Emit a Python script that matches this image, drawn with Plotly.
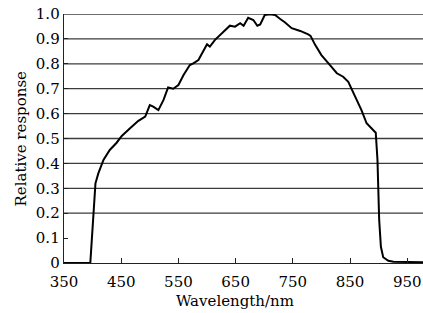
import plotly.graph_objects as go

wavelength = [350, 396, 405, 410, 419, 430, 442, 451, 465, 480, 492, 500, 506, 515, 524,
              532, 541, 550, 559, 570, 576, 585, 600, 605, 614, 626, 640, 649, 658, 664,
              672, 681, 688, 693, 701, 710, 719, 728, 736, 748, 763, 777, 781, 789, 800,
              815, 827, 838, 847, 859, 870, 879, 888, 895, 898, 901, 904, 908, 917, 926, 978]
response = [0.0, 0.0, 0.32, 0.36, 0.414, 0.454, 0.483, 0.51, 0.54, 0.571, 0.588, 0.634, 0.628,
            0.614, 0.655, 0.705, 0.70, 0.715, 0.755, 0.795, 0.802, 0.815, 0.878, 0.869, 0.896,
            0.922, 0.953, 0.949, 0.963, 0.953, 0.985, 0.976, 0.953, 0.958, 0.996, 0.999, 0.996,
            0.98, 0.967, 0.943, 0.932, 0.918, 0.912, 0.876, 0.835, 0.795, 0.762, 0.748, 0.728,
            0.668, 0.614, 0.561, 0.541, 0.523, 0.414, 0.173, 0.065, 0.023, 0.009, 0.005, 0.003]

x_ticks = [350, 450, 550, 650, 750, 850, 950]
y_ticks = [0, 0.1, 0.2, 0.3, 0.4, 0.5, 0.6, 0.7, 0.8, 0.9, 1.0]
y_tick_text = ["0", "0.1", "0.2", "0.3", "0.4", "0.5", "0.6", "0.7", "0.8", "0.9", "1.0"]
grid_levels = [0.2, 0.3, 0.4, 0.5, 0.6, 0.7, 0.8, 0.9, 1.0]

FONT = "DejaVu Serif"

fig = go.Figure()
fig.add_trace(go.Scatter(x=wavelength, y=response, mode="lines",
                         line=dict(color="black", width=2), cliponaxis=False,
                         showlegend=False, hoverinfo="skip"))

for g in grid_levels:
    fig.add_shape(type="line", xref="paper", yref="y", x0=0, x1=1, y0=g, y1=g,
                  line=dict(color="#3c3c3c", width=1.3), layer="below")

fig.update_layout(
    width=423, height=313,
    margin=dict(l=64, r=0, t=14, b=50),
    paper_bgcolor="white", plot_bgcolor="white",
    font=dict(family=FONT, size=15, color="black"),
    xaxis=dict(range=[350, 977.6], tickvals=x_ticks, ticktext=[str(v) for v in x_ticks],
               showgrid=False, zeroline=False, showline=True, linecolor="#222", linewidth=1.3,
               ticks="inside", ticklen=5, tickcolor="#222", tickwidth=1,
               ticklabelstandoff=5,
               tickfont=dict(family=FONT, size=15)),
    yaxis=dict(range=[0, 1.0], tickvals=y_ticks, ticktext=y_tick_text,
               showgrid=False, zeroline=False, showline=True, linecolor="#222", linewidth=1.3,
               ticks="inside", ticklen=4, tickcolor="#222", tickwidth=1,
               tickfont=dict(family=FONT, size=15)),
    annotations=[
        dict(text="Wavelength/nm", xref="paper", yref="paper", x=0.476, y=0,
             yshift=-27, xanchor="center", yanchor="top", showarrow=False,
             font=dict(family=FONT, size=15, color="black")),
        dict(text="Relative response", xref="paper", yref="paper", x=0, y=0.5,
             xshift=-44, xanchor="center", yanchor="middle", textangle=-90, showarrow=False,
             font=dict(family=FONT, size=15, color="black")),
    ],
)

fig.write_html("out.html", config={"displayModeBar": False, "staticPlot": True},
               post_script="document.body.style.margin='0';document.body.style.overflow='hidden';")
